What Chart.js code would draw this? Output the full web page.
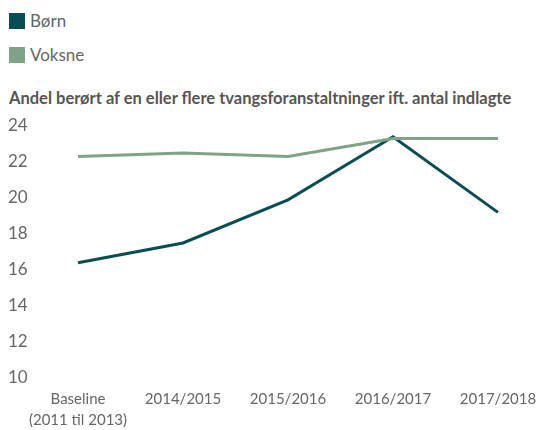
<!DOCTYPE html>
<html>
<head>
<meta charset="utf-8">
<script src="https://cdn.jsdelivr.net/npm/chart.js@4"></script>
<style>
  body { margin: 0; background: #fff; font-family: Lato, "Open Sans", sans-serif; }
  .leg { position: absolute; left: 9px; font-size: 17px; color: #666; line-height: 20px; }
  .leg span { display: inline-block; width: 16px; height: 16px; vertical-align: -2px; margin-right: 5px; }
  #title { position: absolute; left: 9px; top: 88px; font-size: 16.5px; font-weight: bold; color: #555; }
  #wrap { position: absolute; left: 0; top: 110px; width: 538px; height: 320px; }
</style>
</head>
<body>
<div class="leg" style="top:11px"><span style="background:#0b4d54"></span>Børn</div>
<div class="leg" style="top:45px"><span style="background:#7fa386"></span>Voksne</div>
<div id="title">Andel berørt af en eller flere tvangsforanstaltninger ift. antal indlagte</div>
<div id="wrap"><canvas id="chart"></canvas></div>
<script>
var labels = [['Baseline', '(2011 til 2013)'], '2014/2015', '2015/2016', '2016/2017', '2017/2018'];
var born = [16.4, 17.5, 19.9, 23.4, 19.2];
var voksne = [22.3, 22.5, 22.3, 23.3, 23.3];

var ctx = document.getElementById('chart').getContext('2d');
var chart = new Chart(ctx, {
    type: 'line',
    data: {
        labels: labels,
        datasets: [
            {
                label: 'Voksne',
                data: voksne,
                borderColor: '#7fa386',
                borderWidth: 3,
                pointRadius: 0,
                fill: false
            },
            {
                label: 'Børn',
                data: born,
                borderColor: '#0b4d54',
                borderWidth: 3,
                pointRadius: 0,
                fill: false
            }
        ]
    },
    options: {
        responsive: true,
        maintainAspectRatio: false,
        animation: false,
        layout: { padding: { left: 8, right: 40, top: 16, bottom: 0 } },
        plugins: {
            legend: { display: false },
            tooltip: { enabled: false }
        },
        scales: {
            x: {
                offset: false,
                grid: { display: false, drawTicks: false },
                border: { display: false },
                afterFit: function (scale) {
                    scale.height = 52;
                    scale.paddingLeft = 0;
                    scale.paddingRight = 0;
                },
                ticks: {
                    color: '#666',
                    font: { family: 'Lato', size: 15, lineHeight: 1.4 },
                    padding: 11,
                    maxRotation: 0
                }
            },
            y: {
                min: 10,
                max: 24,
                grid: { display: false, drawTicks: false },
                border: { display: false },
                afterFit: function (scale) { scale.width = 70; },
                ticks: {
                    stepSize: 2,
                    color: '#666',
                    crossAlign: 'far',
                    padding: 0,
                    font: { family: 'Lato', size: 17 }
                }
            }
        }
    }
});
</script>
</body>
</html>
